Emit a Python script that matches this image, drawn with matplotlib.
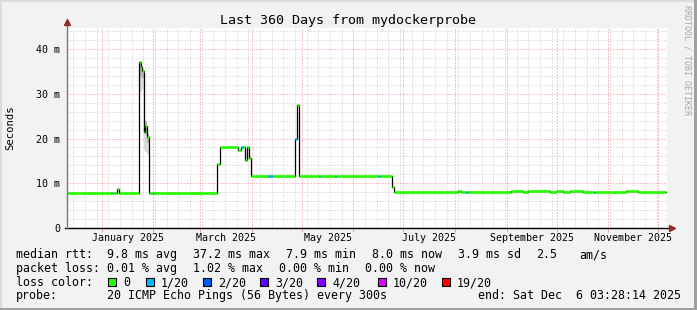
import pandas as pd
import matplotlib
matplotlib.use("Agg")
import matplotlib.pyplot as plt
import matplotlib.dates as mdates
from matplotlib.patches import Rectangle
from matplotlib.ticker import MultipleLocator, FuncFormatter

# ---- data ----
start = pd.Timestamp("2024-12-11 03:28:14")
end = pd.Timestamp("2025-12-06 03:28:14")

# median rtt as steps (value holds from this time until the next one)
step_times = [
    "2024-12-11 04:00", "2025-01-06 12:00", "2025-01-07 02:00", "2025-01-10 02:00",
    "2025-01-11 08:00", "2025-01-23 12:00", "2025-01-24 08:00", "2025-01-25 02:00",
    "2025-01-26 12:00", "2025-01-27 02:00", "2025-01-28 08:00", "2025-01-29 12:00",
    "2025-01-31 20:00", "2025-02-01 12:00", "2025-03-11 08:00", "2025-03-12 16:00",
    "2025-03-23 16:00", "2025-03-25 08:00", "2025-03-26 12:00", "2025-03-28 02:00",
    "2025-03-29 08:00", "2025-03-30 12:00", "2025-03-31 08:00", "2025-04-10 16:00",
    "2025-04-13 16:00", "2025-04-27 02:00", "2025-04-27 22:00", "2025-04-29 12:00",
    "2025-05-11 02:00", "2025-05-11 16:00", "2025-05-20 22:00", "2025-05-21 12:00",
    "2025-06-15 22:00", "2025-06-16 16:00", "2025-06-24 08:00", "2025-06-25 14:00",
    "2025-08-02 14:00", "2025-08-04 10:00", "2025-08-07 20:00", "2025-08-08 12:00",
    "2025-09-03 10:00", "2025-09-10 14:00", "2025-09-13 14:00", "2025-09-26 20:00",
    "2025-09-30 10:00", "2025-10-04 14:00", "2025-10-08 20:00", "2025-10-16 14:00",
    "2025-10-23 04:00", "2025-10-23 20:00", "2025-11-11 20:00", "2025-11-19 00:00",
]
data_end = "2025-12-05 16:00"
median_ms = [
    7.9, 7.9, 7.9, 8.8,
    7.9, 37.2, 36.0, 35.1,
    21.5, 22.8, 20.3, 7.9,
    7.9, 7.9, 14.2, 18.0,
    17.4, 18.0, 18.0, 15.3,
    18.0, 15.6, 11.6, 11.6,
    11.6, 20.0, 27.5, 11.6,
    11.6, 11.6, 11.6, 11.6,
    11.6, 11.6, 9.2, 8.0,
    8.2, 8.0, 8.0, 8.0,
    8.2, 8.0, 8.2, 8.0,
    8.2, 8.0, 8.2, 8.0,
    8.0, 8.0, 8.2, 8.0,
]
# index into loss_labels / loss_colors
loss_level = [
    0, 1, 0, 0,
    0, 0, 0, 0,
    0, 0, 0, 0,
    1, 0, 0, 0,
    0, 1, 0, 0,
    0, 0, 0, 1,
    0, 1, 0, 0,
    1, 0, 1, 0,
    1, 0, 0, 0,
    0, 0, 1, 0,
    0, 0, 0, 0,
    0, 0, 0, 0,
    1, 0, 0, 0,
]

# smoke (spread of the 20 pings) around the January spike
smoke_times = ["2025-01-23 12:00", "2025-01-24 08:00", "2025-01-25 02:00",
               "2025-01-26 12:00", "2025-01-27 02:00", "2025-01-28 08:00", "2025-01-29 12:00"]
smoke_hi = [37.0, 36.0, 35.0, 24.0, 24.0, 21.0]
smoke_mid = [34.0, 33.5, 33.5, 21.5, 21.0, 19.0]
smoke_lo = [30.5, 30.5, 31.0, 17.5, 17.0, 16.5]

loss_labels = ["0", "1/20", "2/20", "3/20", "4/20", "10/20", "19/20"]
loss_colors = ["#26ff00", "#00b8ff", "#0059ff", "#5e00ff", "#7e00ff", "#dd00ff", "#ff0000"]

label_months = ["2025-01", "2025-03", "2025-05", "2025-07", "2025-09", "2025-11"]

rtt_row = ["median rtt:", "9.8 ms avg", "37.2 ms max", "7.9 ms min", "8.0 ms now", "3.9 ms sd", "2.5", "am/s"]
loss_row = ["packet loss:", "0.01 % avg", "1.02 % max", "0.00 % min", "0.00 % now"]
probe_text = "20 ICMP Echo Pings (56 Bytes) every 300s"
end_text = "end: Sat Dec  6 03:28:14 2025"

# ---- figure ----
W, H = 697, 310
MONO = "DejaVu Sans Mono"
BG = "#f2f2f2"


def fx(px):
    return px / W


def fy(py):
    return 1 - py / H


fig = plt.figure(figsize=(W / 100, H / 100), dpi=100, facecolor=BG)
ax = fig.add_axes([fx(67), fy(228), 600 / W, 200 / H])
ax.set_facecolor("white")

t = mdates.date2num(pd.to_datetime(step_times + [data_end]))
st = mdates.date2num(pd.to_datetime(smoke_times))

# smoke
ax.fill_between(st, smoke_lo + [smoke_lo[-1]], smoke_hi + [smoke_hi[-1]], step="post",
                color="#dadada", lw=0, zorder=2)
ax.fill_between(st, smoke_mid + [smoke_mid[-1]], smoke_hi + [smoke_hi[-1]], step="post",
                color="#b4b4b4", lw=0, zorder=2)

# median line: black steps, coloured by loss on the flat parts
ax.step(t, median_ms + [median_ms[-1]], where="post", color="black", lw=0.9, zorder=3)
ax.hlines(median_ms, t[:-1], t[1:], colors=[loss_colors[l] for l in loss_level],
          lw=1.9, zorder=4, capstyle="butt")

ax.set_xlim(mdates.date2num(start), mdates.date2num(end))
ax.set_ylim(0, 44.7)

# grid like rrdtool
ax.xaxis.set_major_locator(mdates.MonthLocator())
ax.xaxis.set_minor_locator(mdates.WeekdayLocator(byweekday=mdates.SU))
ax.yaxis.set_major_locator(MultipleLocator(10))
ax.yaxis.set_minor_locator(MultipleLocator(2))
ax.yaxis.set_major_formatter(FuncFormatter(lambda v, p: "0" if v == 0 else f"{v:.0f} m"))
ax.grid(which="minor", color="#c8c8c8", lw=0.72, ls=(0, (1, 2)))
ax.grid(which="major", color="#f08c8c", lw=0.72, ls=(0, (1, 2)))
ax.set_axisbelow(True)

ax.tick_params(axis="x", which="major", labelbottom=False, length=3, width=0.7,
               color="#f09a9a", direction="out")
ax.tick_params(axis="x", which="minor", length=0)
ax.tick_params(axis="y", which="both", length=0, pad=5, labelsize=7.2)
for lab in ax.get_yticklabels():
    lab.set_family(MONO)

for s in ax.spines.values():
    s.set_visible(False)

# axes with arrows
ax.plot([-0.004, 1.008], [0, 0], color="black", lw=1, transform=ax.transAxes, clip_on=False, zorder=5)
ax.plot([0, 0], [0, 1.02], color="#777777", lw=1, transform=ax.transAxes, clip_on=False, zorder=5)
ax.plot([1.008], [0], marker=">", ms=5, color="#8f2a2a", transform=ax.transAxes, clip_on=False, zorder=6)
ax.plot([0], [1.03], marker="^", ms=5, color="#8f2a2a", transform=ax.transAxes, clip_on=False, zorder=6)

# month labels centred in their month
for m in label_months:
    m0 = pd.Timestamp(m + "-01")
    m1 = m0 + pd.offsets.MonthBegin(1)
    mid = mdates.date2num(m0 + (m1 - m0) / 2)
    ax.text(mid, -0.065, f"{m0:%B %Y}", transform=ax.get_xaxis_transform(),
            ha="center", va="baseline", fontsize=7.2, family=MONO)

# texts around the plot
fig.text(fx(348), fy(24), "Last 360 Days from mydockerprobe", ha="center", va="baseline",
         fontsize=9.6, family=MONO)
fig.text(fx(10), fy(128), "Seconds", rotation=90, ha="center", va="center", fontsize=7.6, family=MONO)
fig.text(fx(687), fy(60), "RRDTOOL / TOBI OETIKER", rotation=270, ha="center", va="center",
         fontsize=6, family=MONO, color="#a8a8a8")

legend_size = 8.4
for txt, x in zip(rtt_row, [16, 107, 193, 286.5, 372, 458, 536, 579]):
    fig.text(fx(x), fy(258.3), txt, ha="left", va="baseline", fontsize=legend_size, family=MONO)
for txt, x in zip(loss_row, [16, 107, 193, 279.3, 365]):
    fig.text(fx(x), fy(272.3), txt, ha="left", va="baseline", fontsize=legend_size, family=MONO)

fig.text(fx(16), fy(286), "loss color:", ha="left", va="baseline", fontsize=legend_size, family=MONO)
box_x = [108, 146, 203, 260, 317, 378, 442]
for lab, col, x in zip(loss_labels, loss_colors, box_x):
    fig.add_artist(Rectangle((fx(x), fy(286)), 8 / W, 8 / H, facecolor=col, edgecolor="black",
                             lw=0.8, transform=fig.transFigure))
    fig.text(fx(x + 15), fy(286), lab, ha="left", va="baseline", fontsize=legend_size, family=MONO)

fig.text(fx(16), fy(299.3), "probe:", ha="left", va="baseline", fontsize=legend_size, family=MONO)
fig.text(fx(107), fy(299.3), probe_text, ha="left", va="baseline", fontsize=legend_size, family=MONO)
fig.text(fx(478), fy(299.3), end_text, ha="left", va="baseline", fontsize=legend_size, family=MONO)

# 3d frame
fig.add_artist(Rectangle((0, 1 - 2 / H), 1, 2 / H, color="#dcdcdc", lw=0, transform=fig.transFigure))
fig.add_artist(Rectangle((0, 0), 2 / W, 1, color="#dcdcdc", lw=0, transform=fig.transFigure))
fig.add_artist(Rectangle((0, 0), 1, 2 / H, color="#a0a0a0", lw=0, transform=fig.transFigure))
fig.add_artist(Rectangle((1 - 3 / W, 0), 3 / W, 1, color="#a0a0a0", lw=0, transform=fig.transFigure))

fig.savefig("out.png", dpi=100, facecolor=BG)
